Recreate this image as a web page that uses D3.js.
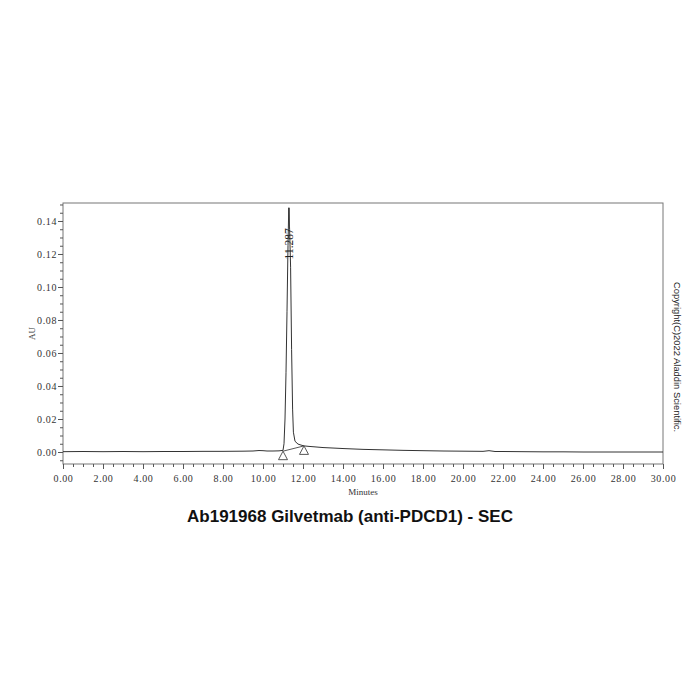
<!DOCTYPE html>
<html>
<head>
<meta charset="utf-8">
<script src="https://cdn.jsdelivr.net/npm/d3@7"></script>
<style>
  body { margin: 0; background: #fff; }
</style>
</head>
<body>
<div class="canvas"></div>
<script>
// retention time (min) and absorbance (AU)
const rtMin = [0, 1, 2, 3, 4, 5, 6, 7, 8, 9, 9.5, 9.8, 10.0, 10.2, 10.5, 10.8,
  11.0, 11.05, 11.1, 11.15, 11.2, 11.25, 11.287, 11.33, 11.38, 11.43, 11.48, 11.52,
  11.6, 11.75, 11.9, 12.05, 12.3, 12.6, 13, 13.5, 14, 15, 16, 17, 18, 19, 20,
  21, 21.3, 21.6, 22, 23, 24, 25, 26, 27, 28, 29, 30];
const absAU = [0.0002, 0.0003, 0.0002, 0.0003, 0.0002, 0.0003, 0.0003, 0.0004, 0.0004, 0.0005, 0.0006, 0.0009, 0.0008, 0.0006, 0.0006, 0.0007,
  0.0010, 0.005, 0.02, 0.048, 0.085, 0.125, 0.148, 0.135, 0.112, 0.062, 0.026, 0.012,
  0.0065, 0.0048, 0.0042, 0.0037, 0.0034, 0.0031, 0.0027, 0.0024, 0.0021, 0.0016, 0.0013, 0.0010, 0.0008, 0.0006, 0.0005,
  0.0004, 0.0008, 0.0003, 0.0003, 0.0002, 0.0001, 0.0001, 0, 0, 0, 0, 0];

// integration baseline events
const baseEvents = [{t: 11.0, v: 0.0005}, {t: 12.05, v: 0.0037}];
// peak label
const peaks = [{t: 11.287, v: 0.148, label: "11.287"}];

const xTicks = d3.range(0, 30.01, 2);
const yTicks = [0, 0.02, 0.04, 0.06, 0.08, 0.10, 0.12, 0.14];

const title = "Ab191968 Gilvetmab (anti-PDCD1) - SEC";
const copyright = "Copyright(C)2022 Aladdin Scientific.";

const serif = '"Liberation Serif", "DejaVu Serif", serif';
const sans = '"Liberation Sans", Arial, sans-serif';

const box = {left: 63, right: 663, top: 203, bottom: 464};

const svg = d3.select('.canvas')
    .append('svg')
    .attr('width', 700)
    .attr('height', 700);

const x = d3.scaleLinear().domain([0, 30]).range([box.left, box.right]);
const y = d3.scaleLinear().domain([-0.00727, 0.1509]).range([box.bottom, box.top]);

// frame
svg.append('rect')
    .attr('x', box.left).attr('y', box.top)
    .attr('width', box.right - box.left).attr('height', box.bottom - box.top)
    .attr('fill', 'none').attr('stroke', '#777').attr('stroke-width', 1);

// x axis: major + minor ticks
const xAxis = svg.append('g').attr('transform', `translate(0,${box.bottom})`);
xAxis.call(d3.axisBottom(x).tickValues(d3.range(0, 30.01, 0.5)).tickSize(3).tickFormat(''))
    .call(g => g.select('.domain').remove())
    .selectAll('line').attr('stroke', '#555');
xAxis.append('g')
    .call(d3.axisBottom(x).tickValues(xTicks).tickSize(5).tickFormat(d3.format('.2f')))
    .call(g => g.select('.domain').remove())
    .call(g => g.selectAll('line').attr('stroke', '#555'))
    .call(g => g.selectAll('text')
        .style('font-family', serif)
        .attr('font-size', 10).attr('fill', '#333').attr('dy', '0.95em').attr('letter-spacing', 0.6));

// y axis
const yAxis = svg.append('g').attr('transform', `translate(${box.left},0)`);
yAxis.call(d3.axisLeft(y).tickValues(d3.range(-0.005, 0.1501, 0.005)).tickSize(3).tickFormat(''))
    .call(g => g.select('.domain').remove())
    .selectAll('line').attr('stroke', '#555');
yAxis.append('g')
    .call(d3.axisLeft(y).tickValues(yTicks).tickSize(5).tickFormat(d3.format('.2f')))
    .call(g => g.select('.domain').remove())
    .call(g => g.selectAll('line').attr('stroke', '#555'))
    .call(g => g.selectAll('text')
        .style('font-family', serif)
        .attr('font-size', 10).attr('fill', '#333').attr('x', -6).attr('letter-spacing', 0.6));

// axis titles
svg.append('text')
    .attr('x', x(15)).attr('y', 495)
    .attr('text-anchor', 'middle').attr('font-size', 9).attr('fill', '#333')
    .style('font-family', serif)
    .text('Minutes');
svg.append('text')
    .attr('transform', `translate(35,${(box.top + box.bottom) / 2}) rotate(-90)`)
    .attr('text-anchor', 'middle').attr('font-size', 9).attr('fill', '#333')
    .style('font-family', serif)
    .text('AU');

// trace
const trace = rtMin.map((t, i) => ({t: t, v: absAU[i]}));
const line = d3.line().x(d => x(d.t)).y(d => y(d.v));

svg.append('path')
    .datum(trace)
    .attr('d', line)
    .attr('fill', 'none')
    .attr('stroke', '#333')
    .attr('stroke-width', 1);

// integration baseline + event triangles
svg.append('path')
    .datum(baseEvents)
    .attr('d', line)
    .attr('fill', 'none').attr('stroke', '#444').attr('stroke-width', 0.9);

svg.selectAll('.evt')
  .data(baseEvents)
  .enter()
  .append('path')
    .attr('class', 'evt')
    .attr('d', d => `M${x(d.t)},${y(d.v)} l4.5,8.5 l-9,0 z`)
    .attr('fill', '#fff').attr('stroke', '#444').attr('stroke-width', 0.9);

// peak marker
const pk = svg.selectAll('.peak').data(peaks).enter().append('g').attr('class', 'peak');
pk.append('line')
    .attr('x1', d => x(d.t) + 0.5).attr('x2', d => x(d.t) + 0.5)
    .attr('y1', d => y(d.v)).attr('y2', d => y(d.v) + 20)
    .attr('stroke', '#444');
pk.append('text')
    .attr('transform', d => `translate(${x(d.t) + 4.5},${y(d.v) + 36}) rotate(-90)`)
    .attr('text-anchor', 'middle').attr('font-size', 11.5).attr('fill', '#222')
    .style('font-family', serif)
    .text(d => d.label);

// title and copyright
svg.append('text')
    .attr('x', 350).attr('y', 522)
    .attr('text-anchor', 'middle')
    .style('font-family', sans)
    .attr('font-weight', 'bold').attr('font-size', 17).attr('fill', '#111')
    .text(title);
svg.append('text')
    .attr('transform', `translate(674,357) rotate(90)`)
    .attr('text-anchor', 'middle')
    .style('font-family', sans)
    .attr('font-size', 9.4).attr('fill', '#222')
    .text(copyright);
</script>
</body>
</html>
